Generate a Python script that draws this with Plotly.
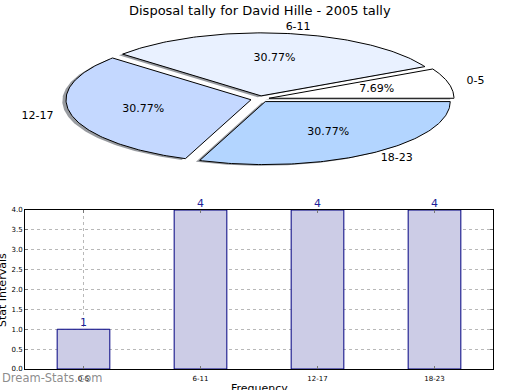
import numpy as np
import plotly.graph_objects as go

# ---- data ----
title_text = "Disposal tally for David Hille - 2005 tally"
categories = ["0-5", "6-11", "12-17", "18-23"]
counts = [1, 4, 4, 4]
pie_colors = ["#ffffff", "#e9f1ff", "#c4d8ff", "#b3d5ff"]
explode = [0.05, 0.05, 0.05, 0.05]
y_tick_vals = [0.0, 0.5, 1.0, 1.5, 2.0, 2.5, 3.0, 3.5, 4.0]
y_axis_title = "Stat Intervals"
x_axis_title = "Frequency"
watermark = "Dream-Stats.com"

FONT = "DejaVu Sans"
W, H = 520, 390

fig = go.Figure()

# ---- pie (drawn as wedges on stretched axes to get the tilted look) ----
vals = np.array(counts, dtype=float)
fracs = vals / vals.sum()
bounds = np.concatenate([[0.0], np.cumsum(fracs)]) * 360.0

wedges = []
for i, cat in enumerate(categories):
    t1, t2 = bounds[i], bounds[i + 1]
    mid = np.deg2rad((t1 + t2) / 2)
    cx, cy = explode[i] * np.cos(mid), explode[i] * np.sin(mid)
    th = np.deg2rad(np.linspace(t1, t2, 120))
    xs = np.concatenate([[cx], cx + np.cos(th), [cx]])
    ys = np.concatenate([[cy], cy + np.sin(th), [cy]])
    wedges.append((xs, ys, mid, cx, cy))

# shadows
for i, (xs, ys, mid, cx, cy) in enumerate(wedges):
    fig.add_trace(go.Scatter(x=xs - 0.02, y=ys - 0.02, mode="lines", fill="toself",
                             fillcolor="rgba(50,55,65,0.5)", line=dict(width=0),
                             xaxis="x2", yaxis="y2", hoverinfo="skip", showlegend=False))
# wedges
for i, (xs, ys, mid, cx, cy) in enumerate(wedges):
    fig.add_trace(go.Scatter(x=xs, y=ys, mode="lines", fill="toself",
                             fillcolor=pie_colors[i], line=dict(color="black", width=1),
                             xaxis="x2", yaxis="y2", hoverinfo="skip", showlegend=False))
# labels
lab_x, lab_y, lab_pos, pct_x, pct_y, pct_t = [], [], [], [], [], []
for i, (xs, ys, mid, cx, cy) in enumerate(wedges):
    lab_x.append(cx + 1.1 * np.cos(mid))
    lab_y.append(cy + 1.1 * np.sin(mid))
    lab_pos.append("middle right" if np.cos(mid) > 0 else "middle left")
    pct_x.append(cx + 0.6 * np.cos(mid))
    pct_y.append(cy + 0.6 * np.sin(mid))
    pct_t.append("%.2f%%" % (fracs[i] * 100))
fig.add_trace(go.Scatter(x=lab_x, y=lab_y, mode="text", text=categories, textposition=lab_pos,
                         textfont=dict(family=FONT, size=11, color="black"),
                         xaxis="x2", yaxis="y2", hoverinfo="skip", showlegend=False, cliponaxis=False))
fig.add_trace(go.Scatter(x=pct_x, y=pct_y, mode="text", text=pct_t, textposition="middle center",
                         textfont=dict(family=FONT, size=11, color="black"),
                         xaxis="x2", yaxis="y2", hoverinfo="skip", showlegend=False, cliponaxis=False))

# ---- bar chart ----
fig.add_trace(go.Bar(x=categories, y=counts, width=0.45,
                     marker=dict(color="#cccce6", line=dict(color="#000080", width=1)),
                     xaxis="x", yaxis="y", hoverinfo="skip", showlegend=False))

bar_labels = [dict(text=str(c), x=cat, y=c, xref="x", yref="y", showarrow=False,
                   xanchor="center", yanchor="bottom", yshift=-2,
                   font=dict(family=FONT, size=11, color="#1f1f99"))
              for cat, c in zip(categories, counts)]

# pie axes geometry: center (260, 99) px, rx 185 px, ry 63 px
rx, ry, pcx, pcy = 185.0, 63.0, 260.0, 99.0
pie_top_px = 0.0
pie_bot_px = 195.0

fig.update_layout(
    width=W, height=H,
    margin=dict(l=0, r=0, t=0, b=0, pad=0, autoexpand=False),
    paper_bgcolor="white", plot_bgcolor="white",
    font=dict(family=FONT, color="black"),
    xaxis=dict(domain=[25 / W, 493 / W], type="category", range=[-0.5, 3.5],
               automargin=False,
               showline=True, linecolor="black", linewidth=1, mirror="ticks",
               ticks="inside", ticklen=3, tickcolor="#777777",
               showgrid=True, gridcolor="#b8b8b8", griddash="dot", gridwidth=1,
               tickfont=dict(family=FONT, size=7, color="black"),
               ticklabelstandoff=3,
               fixedrange=True),
    yaxis=dict(domain=[1 - 369 / H, 1 - 210 / H], range=[0, 4],
               automargin=False,
               tickvals=y_tick_vals, tickformat=".1f",
               showline=True, linecolor="black", linewidth=1, mirror="ticks",
               ticks="inside", ticklen=3, tickcolor="#777777",
               showgrid=True, gridcolor="#b8b8b8", griddash="dot", gridwidth=1,
               zeroline=False,
               tickfont=dict(family=FONT, size=7, color="black"),
               fixedrange=True),
    xaxis2=dict(domain=[0, 1], range=[-pcx / rx, (W - pcx) / rx], visible=False,
                automargin=False, fixedrange=True),
    yaxis2=dict(domain=[1 - pie_bot_px / H, 1 - pie_top_px / H],
                range=[-(pie_bot_px - pcy) / ry, (pcy - pie_top_px) / ry],
                visible=False, automargin=False, fixedrange=True),
    annotations=bar_labels + [
        dict(text=title_text, x=260 / W, y=1 - 10 / H, xref="paper", yref="paper",
             showarrow=False, xanchor="center", yanchor="middle",
             font=dict(family=FONT, size=13, color="black")),
        dict(text=y_axis_title, x=2 / W, y=1 - 290 / H, xref="paper", yref="paper",
             showarrow=False, xanchor="center", yanchor="middle", textangle=-90,
             font=dict(family=FONT, size=11, color="black")),
        dict(text=x_axis_title, x=259 / W, y=1 - 388 / H, xref="paper", yref="paper",
             showarrow=False, xanchor="center", yanchor="middle",
             font=dict(family=FONT, size=11, color="black")),
        dict(text=watermark, x=0 / W, y=1 - 378 / H, xref="paper", yref="paper",
             showarrow=False, xanchor="left", yanchor="middle",
             font=dict(family=FONT, size=11.5, color="rgba(110,110,110,0.8)")),
    ],
)

fig.write_html("out.html", config={"displayModeBar": False, "staticPlot": True},
               post_script="document.body.style.margin='0';document.body.style.overflow='hidden';")
